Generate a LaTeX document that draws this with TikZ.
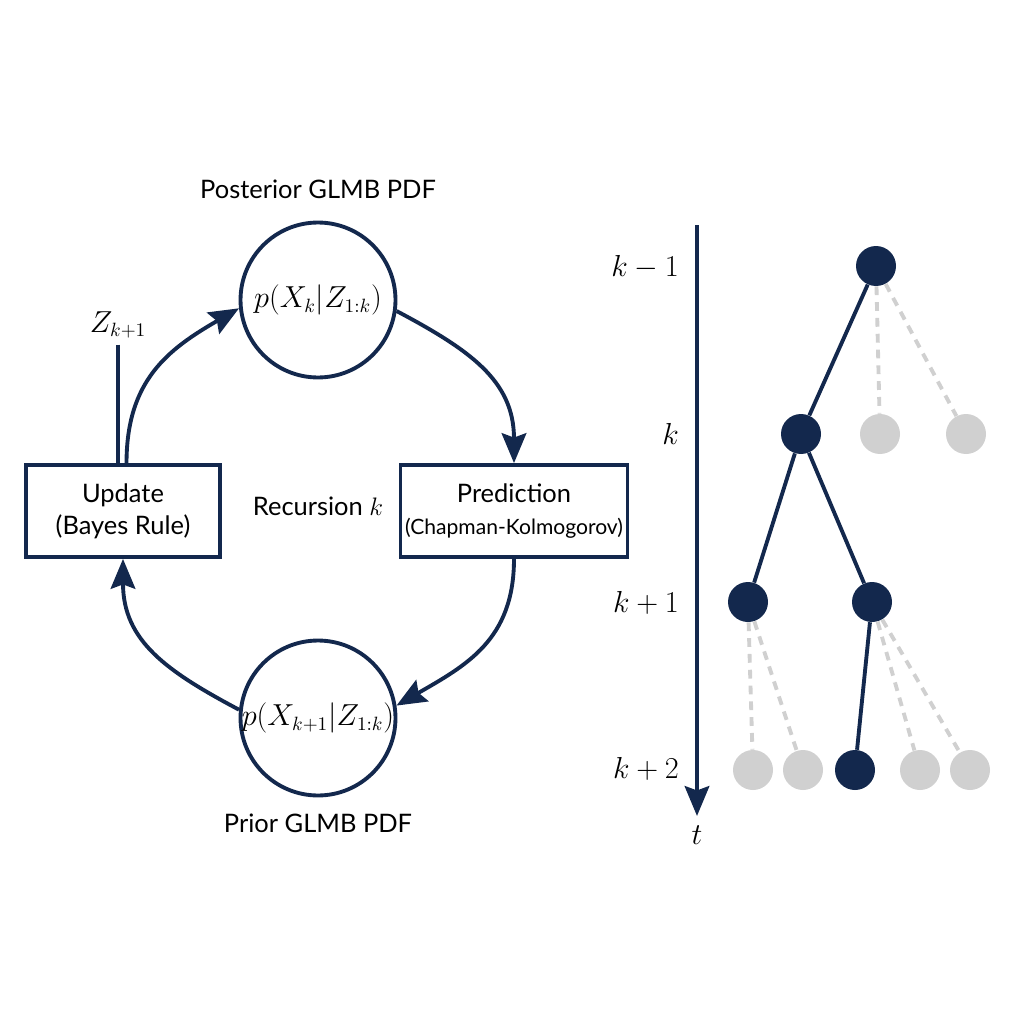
\documentclass[tikz,border=0pt]{standalone}
\usepackage{fontspec}
\setmainfont{Lato}
\usetikzlibrary{arrows.meta}
\definecolor{navy}{HTML}{13284D}
\definecolor{ghost}{HTML}{D0D0D0}
\begin{document}
\begin{tikzpicture}[x=0.02cm, y=-0.02cm,
    >={Stealth[length=17pt,width=14pt,inset=2.5pt]},
    flow/.style={draw=navy, line width=2.2pt},
    pdf/.style={circle, draw=navy, line width=2.2pt, minimum size=3.1cm, inner sep=0pt, font=\fontsize{16}{18}\selectfont},
    stage/.style={rectangle, draw=navy, line width=2.2pt, minimum height=1.84cm, inner sep=2pt, align=center},
    caption/.style={font=\fontsize{14.5}{17}\selectfont},
    lvl/.style={anchor=east, font=\fontsize{16}{18}\selectfont},
    hyp/.style={circle, fill=navy, minimum size=0.8cm, inner sep=0pt},
    pruned/.style={circle, fill=ghost, minimum size=0.8cm, inner sep=0pt},
    branch/.style={draw=navy, line width=2.2pt},
    cut/.style={draw=ghost, line width=2.2pt, dash pattern=on 5pt off 4pt}]
    \useasboundingbox (0,0) rectangle (1024,1024);
    % recursion loop
    \node (A0_1) at (318,300) [pdf] {$p(X_k|Z_{1:k})$};
    \node (A2_1) at (318,718) [pdf] {$p(X_{k+1}|Z_{1:k})$};
    \node (A1_0) at (123,511) [stage, minimum width=3.88cm, caption]
      {Update\\[1pt](Bayes Rule)};
    \node (A1_2) at (514,511) [stage, minimum width=4.54cm]
      {{\fontsize{14.5}{17}\selectfont Prediction}\\[6pt]{\fontsize{12}{14}\selectfont (Chapman-Kolmogorov)}};
    \node (C0) at (318,189) [caption] {Posterior GLMB PDF};
    \node (C2) at (318,823) [caption] {Prior GLMB PDF};
    \node (C1) at (318,506) [caption] {Recursion $k$};
    \node (Zl) at (118,325) [font=\fontsize{16}{18}\selectfont] {$Z_{k+1}$};
    \path (Zl) edge [flow] (A1_0.north -| Zl);
    \path ([xshift=2pt]A1_0.north) edge [flow,->,out=90,in=210,looseness=1.1] (A0_1.186);
    \path (A0_1.-8) edge [flow,->,out=-28,in=90,looseness=1.1] (A1_2.north);
    \path (A1_2.south) edge [flow,->,out=-90,in=30,looseness=1.1] (A2_1.9);
    \path (A2_1.174) edge [flow,->,out=152,in=-90,looseness=1.1] (A1_0.south);
    % time axis
    \coordinate (top) at (697,225);
    \node (tl) at (697,835) [font=\fontsize{16}{18}\selectfont] {$t$};
    \path (top) edge [flow,->] ([yshift=2pt]tl.north);
    \node (L0) at (685,267) [lvl] {$k-1$};
    \node (L1) at (685,434) [lvl] {$k$};
    \node (L2) at (685,603) [lvl] {$k+1$};
    \node (L3) at (685,769) [lvl] {$k+2$};
    % hypothesis tree
    \node (T0_0) at (876,266) [hyp] {};
    \node (T1_0) at (801,434) [hyp] {};
    \node (T1_1) at (880,434) [pruned] {};
    \node (T1_2) at (966,434) [pruned] {};
    \node (T2_0) at (748,602) [hyp] {};
    \node (T2_1) at (872,602) [hyp] {};
    \node (T3_0) at (753,770) [pruned] {};
    \node (T3_1) at (803,770) [pruned] {};
    \node (T3_2) at (855,770) [hyp] {};
    \node (T3_3) at (920,770) [pruned] {};
    \node (T3_4) at (970,770) [pruned] {};
    \path (T0_0) edge [branch] (T1_0);
    \path (T1_0) edge [branch] (T2_0);
    \path (T1_0) edge [branch] (T2_1);
    \path (T2_1) edge [branch] (T3_2);
    \path (T0_0) edge [cut] (T1_1);
    \path (T0_0) edge [cut] (T1_2);
    \path (T2_0) edge [cut] (T3_0);
    \path (T2_0) edge [cut] (T3_1);
    \path (T2_1) edge [cut] (T3_3);
    \path (T2_1) edge [cut] (T3_4);
\end{tikzpicture}
\end{document}
